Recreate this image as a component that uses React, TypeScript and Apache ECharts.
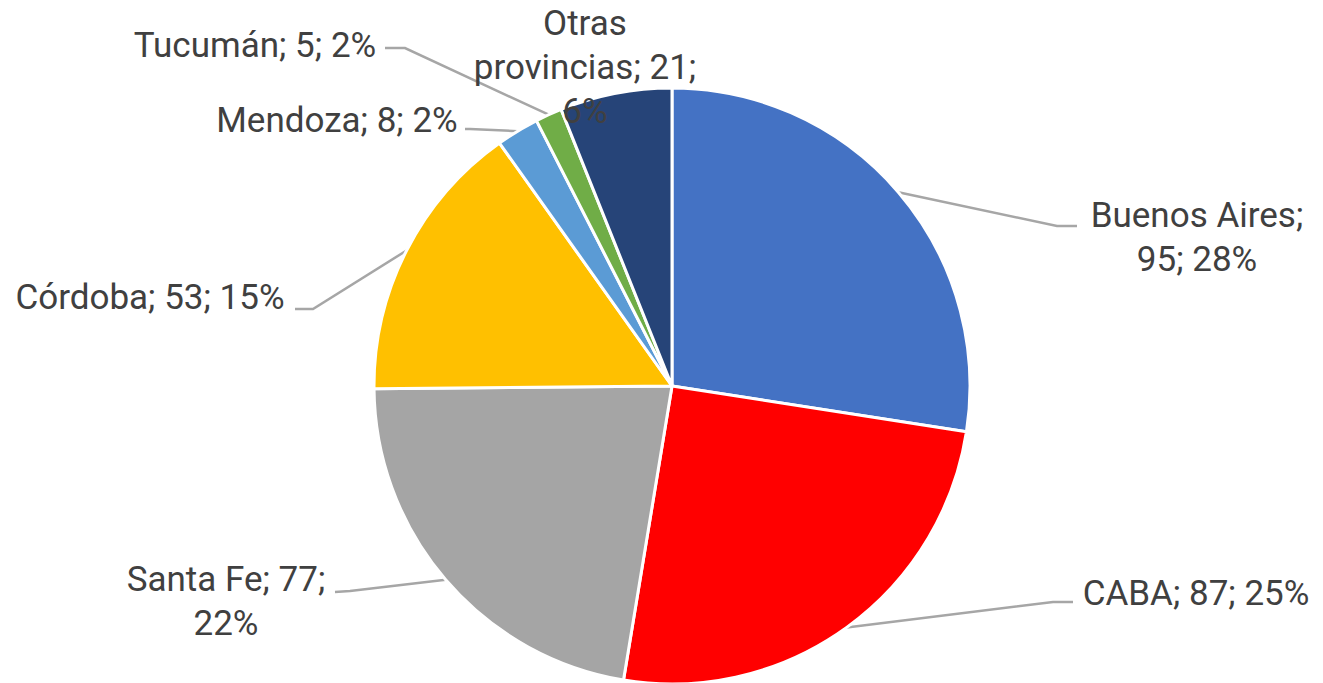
import React, { useEffect, useRef } from "react";
import * as echarts from "echarts";

const provinces = ["Buenos Aires", "CABA", "Santa Fe", "Córdoba", "Mendoza", "Tucumán", "Otras provincias"];
const counts = [95, 87, 77, 53, 8, 5, 21];
const percents = ["28%", "25%", "22%", "15%", "2%", "2%", "6%"];
const colors = ["#4472C4", "#FF0000", "#A5A5A5", "#FFC000", "#5B9BD5", "#70AD47", "#264478"];

// where each label wraps in the reference (index of the part after which a line break falls)
const labelTexts = [
  `${provinces[0]};\n${counts[0]}; ${percents[0]}`,
  `${provinces[1]}; ${counts[1]}; ${percents[1]}`,
  `${provinces[2]}; ${counts[2]};\n${percents[2]}`,
  `${provinces[3]}; ${counts[3]}; ${percents[3]}`,
  `${provinces[4]}; ${counts[4]}; ${percents[4]}`,
  `${provinces[5]}; ${counts[5]}; ${percents[5]}`,
  `Otras\nprovincias; ${counts[6]};\n${percents[6]}`,
];

// label centres and leader-line bends (pixels)
const labelPos: [number, number][] = [
  [1197, 237],
  [1196, 593],
  [226, 601],
  [150, 297],
  [337, 120],
  [255, 45],
  [585, 67],
];
const leaderBends: ([number, number][] | null)[] = [
  [[1057, 226], [1077, 226]],
  [[1053, 602], [1073, 602]],
  [[350, 591], [335, 592]],
  [[313, 309], [295, 309]],
  [[470, 129], [465, 129]],
  [[405, 48], [385, 48]],
  null,
];

export default function App() {
  const ref = useRef<HTMLDivElement>(null);
  useEffect(() => {
    if (!ref.current) return;
    const chart = echarts.init(ref.current, null, { renderer: "svg" });
    const data = provinces.map((name, i) => ({
      name,
      value: counts[i],
      itemStyle: { color: colors[i] },
      labelLine: { show: leaderBends[i] !== null },
    }));
    chart.setOption({
      animation: false,
      backgroundColor: "#ffffff",
      series: [
        {
          type: "pie",
          center: [672, 386],
          radius: 298,
          startAngle: 90,
          clockwise: true,
          data,
          itemStyle: { borderColor: "#ffffff", borderWidth: 3 },
          label: {
            show: true,
            position: "outside",
            formatter: (p: any) => labelTexts[p.dataIndex],
            color: "#404040",
            fontFamily: "Roboto, 'DejaVu Sans', sans-serif",
            fontSize: 35,
            lineHeight: 44,
            align: "center",
          },
          labelLine: {
            show: true,
            length: 10,
            length2: 10,
            lineStyle: { color: "#A6A6A6", width: 2.5 },
          },
          labelLayout: (params: any) => {
            const i = params.dataIndex;
            const pos = labelPos[i];
            const res: any = {
              x: pos[0],
              y: pos[1],
              align: "center",
              verticalAlign: "middle",
            };
            const bends = leaderBends[i];
            if (bends && params.labelLinePoints) {
              res.labelLinePoints = [params.labelLinePoints[0], bends[0], bends[1]];
            }
            return res;
          },
        },
      ],
    });
    return () => chart.dispose();
  }, []);
  return (
    <div
      ref={ref}
      style={{ position: "absolute", left: 0, top: 0, width: 1323, height: 683 }}
    />
  );
}
